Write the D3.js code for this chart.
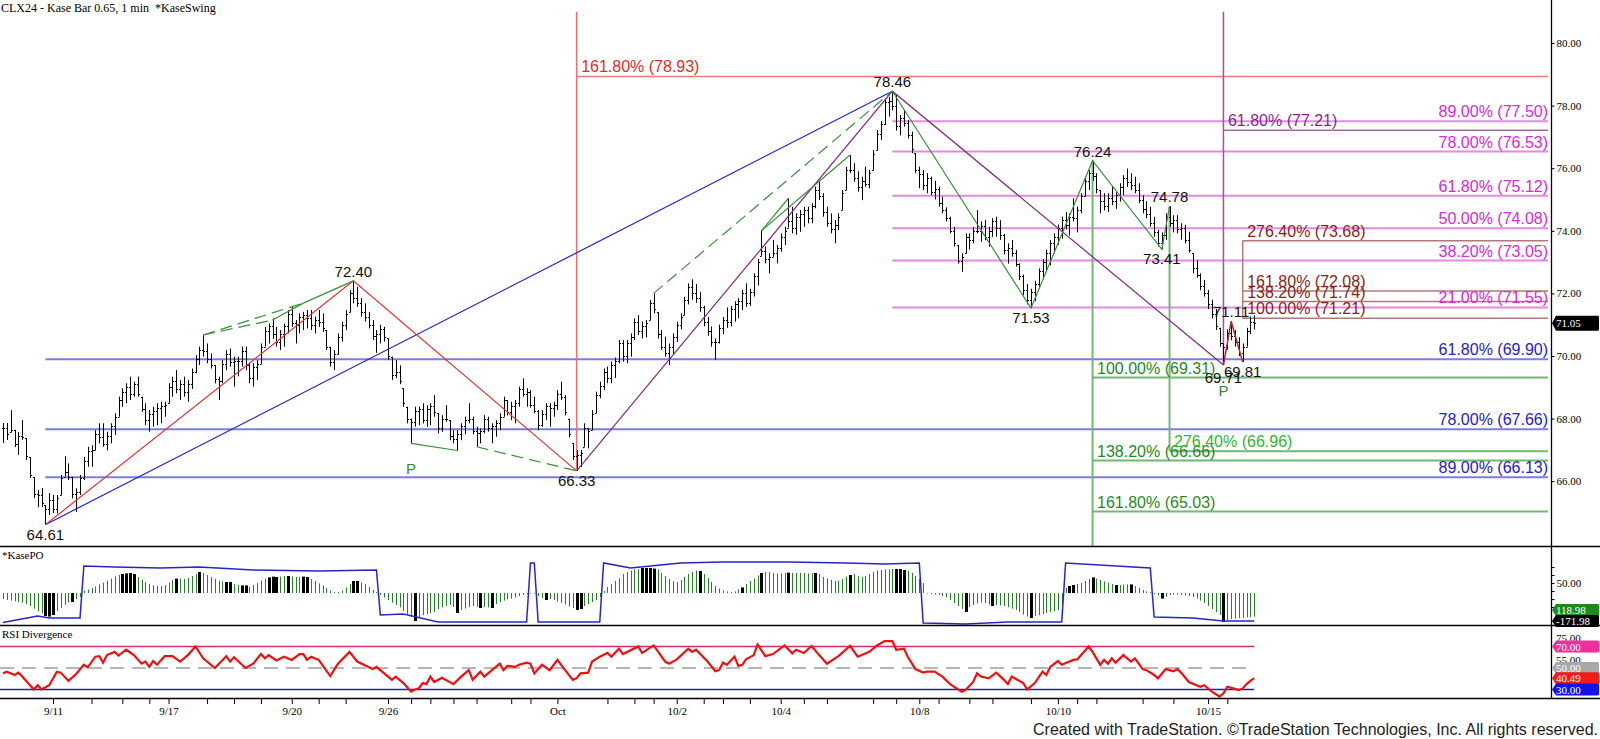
<!DOCTYPE html>
<html><head><meta charset="utf-8">
<script src="https://cdn.jsdelivr.net/npm/d3@7"></script>
<style>body{margin:0;background:#fff}svg{display:block}</style>
</head><body>
<svg id="c" width="1600" height="739"></svg>
<script>
// ---------------- DATA ----------------
const barHigh=[
67.86,67.86,68.27,67.64,67.57,67.95,67.38,66.77,66.13,65.72,
65.78,65.24,65.62,65.56,65.56,66.20,66.80,66.57,66.14,65.77,
66.20,66.78,67.10,67.15,67.63,67.85,67.85,67.58,67.85,68.17,
68.70,68.97,69.13,69.34,69.18,69.34,68.70,68.49,68.27,68.38,
68.49,68.54,68.54,69.13,69.34,69.55,69.23,69.34,69.23,69.60,
70.03,70.30,70.67,70.40,70.08,69.71,69.34,69.87,70.19,70.24,
69.98,69.98,70.30,70.30,69.77,69.77,69.87,70.40,70.93,71.04,
71.20,70.93,70.83,71.04,71.47,71.57,71.15,71.36,71.41,71.47,
71.47,71.26,71.47,71.36,70.83,70.30,70.19,70.72,71.10,71.47,
72.10,72.40,72.21,71.85,71.68,71.41,71.15,70.83,71.00,70.93,
70.56,69.98,69.87,69.70,68.97,68.38,68.00,68.38,68.38,68.49,
68.43,68.49,68.75,68.17,68.11,68.43,67.95,67.63,67.63,67.85,
68.06,68.49,68.06,67.74,67.69,68.11,68.06,67.85,67.95,68.17,
68.70,68.59,68.54,68.59,69.02,69.29,68.97,68.91,68.70,68.27,
68.27,68.49,68.49,68.54,68.91,69.18,68.75,68.00,67.21,66.99,
67.00,67.85,67.70,68.27,68.86,69.18,69.60,69.66,69.82,69.95,
70.51,70.51,70.51,70.72,71.20,71.31,71.10,71.15,71.79,72.00,
71.41,70.83,70.62,70.40,70.72,71.10,71.36,71.89,72.32,72.45,
72.30,72.05,71.60,71.25,70.94,70.56,71.00,71.25,71.55,71.60,
71.75,71.85,72.11,72.32,72.15,72.64,73.10,74.00,73.50,73.28,
73.71,73.55,73.92,74.13,75.04,74.77,74.56,74.66,74.77,74.77,
74.88,75.41,75.57,75.20,74.77,74.56,74.34,74.56,75.30,76.05,
76.42,76.16,75.90,75.73,76.05,75.94,76.58,77.22,77.50,78.23,
78.28,78.46,78.35,77.70,77.86,77.54,77.17,76.48,76.05,75.94,
75.84,75.73,75.60,75.41,75.09,74.75,74.45,74.13,73.55,73.28,
73.92,73.92,74.13,74.66,74.30,74.35,74.13,74.40,74.45,74.34,
73.90,73.60,73.71,73.39,72.96,72.60,72.30,72.15,72.40,72.80,
73.10,73.40,73.70,73.92,74.20,74.45,74.60,74.56,75.04,74.77,
75.20,75.73,75.94,76.24,75.84,75.30,75.20,75.20,75.41,75.25,
75.52,75.78,75.99,75.84,75.73,75.52,75.14,74.95,74.77,74.45,
74.03,73.95,74.56,74.78,74.50,74.50,74.24,74.19,73.97,73.28,
73.07,72.64,72.43,72.11,71.80,71.50,70.90,70.40,70.85,71.11,
70.83,70.60,70.40,70.90,71.26,71.30];
const barLow=[
67.22,67.32,67.57,67.09,66.84,67.32,66.68,66.10,65.46,65.17,
65.17,64.61,64.92,64.98,64.97,65.55,66.15,66.04,65.45,65.02,
65.56,66.04,66.46,66.46,66.99,67.21,67.10,66.99,67.21,67.48,
68.06,68.38,68.49,68.59,68.70,68.70,68.22,67.79,67.58,67.74,
67.79,67.85,68.06,68.49,68.70,68.81,68.59,68.70,68.54,68.95,
69.45,69.71,69.98,69.77,69.60,69.13,68.59,69.13,69.55,69.66,
69.02,69.35,69.66,69.55,69.13,69.02,69.23,69.75,70.30,70.40,
70.55,70.30,70.19,70.30,70.72,70.93,70.40,70.72,70.83,70.88,
70.83,70.72,70.93,70.77,70.19,69.66,69.55,70.05,70.46,70.83,
71.40,71.68,71.57,71.26,71.10,70.88,70.51,70.10,70.40,70.46,
69.87,69.23,69.29,69.10,68.38,67.85,67.21,67.74,67.79,67.85,
67.74,67.79,68.06,67.53,67.58,67.90,67.31,67.21,66.98,67.31,
67.50,67.85,67.50,67.10,67.21,67.53,67.58,67.21,67.42,67.63,
68.06,68.10,67.95,67.85,68.38,68.70,68.38,68.35,68.17,67.63,
67.74,67.95,67.74,68.06,68.27,68.59,68.10,67.40,66.68,66.33,
66.45,67.10,67.05,67.63,68.17,68.65,68.91,69.13,69.13,69.30,
69.77,69.82,69.77,69.98,70.51,70.67,70.56,70.60,71.15,71.36,
70.56,70.19,69.98,69.71,70.05,70.45,70.85,71.30,71.65,71.80,
71.70,71.41,70.95,70.65,70.30,69.87,70.40,70.70,70.90,70.95,
71.10,71.20,71.47,71.57,71.60,71.90,72.25,73.20,72.96,72.64,
73.17,72.96,73.33,73.55,74.10,73.92,73.87,73.97,74.13,74.24,
74.24,74.72,74.98,74.45,74.13,73.92,73.60,74.02,74.66,75.30,
75.84,75.57,75.25,74.98,75.41,75.36,75.94,76.58,76.90,77.38,
77.65,77.85,77.20,77.05,77.33,76.95,76.48,75.84,75.36,75.30,
75.20,75.14,75.00,74.77,74.56,74.30,73.92,73.50,72.95,72.69,
73.28,73.40,73.60,73.92,73.65,73.70,73.49,73.80,73.81,73.71,
73.25,72.95,73.17,72.85,72.43,71.95,71.65,71.53,71.75,72.15,
72.45,72.75,72.90,73.28,73.55,73.75,74.05,73.85,74.30,73.95,
74.56,75.09,75.30,75.60,75.20,74.56,74.65,74.60,74.82,74.70,
74.93,75.14,75.40,75.30,75.20,74.88,74.56,74.40,74.13,73.81,
73.50,73.41,73.71,74.13,73.95,73.92,73.71,73.60,73.30,72.64,
72.50,72.10,71.90,71.50,71.20,70.83,70.30,69.71,70.20,70.50,
70.30,70.00,69.81,70.30,70.70,70.85];
const barClose=[
67.70,67.50,67.65,67.20,67.45,67.40,66.80,66.20,65.60,65.55,
65.30,65.10,65.40,65.10,65.45,66.10,66.30,66.15,65.60,65.65,
66.10,66.65,66.95,67.00,67.50,67.40,67.20,67.45,67.75,68.05,
68.60,68.85,69.00,68.80,69.10,68.80,68.30,67.95,68.15,68.25,
68.35,68.40,68.45,69.00,69.20,68.95,69.10,68.85,69.10,69.50,
69.90,70.20,70.15,69.90,69.70,69.25,69.20,69.75,70.05,69.80,
69.85,69.85,70.15,69.70,69.30,69.65,69.75,70.30,70.80,70.95,
70.70,70.45,70.70,70.95,71.35,71.05,71.00,71.25,71.30,71.20,
71.00,71.15,71.10,70.90,70.30,69.80,70.05,70.60,71.00,71.35,
72.00,71.85,71.70,71.40,71.25,71.00,70.65,70.70,70.85,70.60,
70.00,69.40,69.50,69.20,68.50,68.00,67.90,68.25,68.30,67.95,
68.30,68.40,68.20,67.70,68.00,68.00,67.45,67.35,67.50,67.75,
67.95,68.00,67.60,67.55,67.60,68.00,67.70,67.75,67.85,68.05,
68.60,68.20,68.40,68.50,68.95,68.80,68.85,68.45,68.25,67.80,
68.15,68.40,68.35,68.45,68.80,68.70,68.20,67.50,66.80,66.85,
66.90,67.70,67.60,68.15,68.75,69.05,69.50,69.30,69.70,69.85,
70.40,70.00,70.40,70.60,71.10,70.80,70.95,71.05,71.70,71.50,
70.70,70.30,70.10,70.30,70.60,71.00,71.25,71.80,72.20,72.00,
71.85,71.55,71.10,70.80,70.45,70.45,70.90,71.15,71.10,71.50,
71.65,71.75,72.00,71.70,72.05,72.55,73.00,73.35,73.10,73.15,
73.30,73.45,73.80,74.00,74.30,74.10,74.45,74.55,74.65,74.40,
74.80,75.30,75.10,74.60,74.25,74.05,74.20,74.45,75.20,75.95,
75.95,75.70,75.40,75.60,75.50,75.85,76.45,77.10,77.40,78.10,
78.15,78.00,77.35,77.60,77.45,77.05,76.60,75.95,75.80,75.45,
75.70,75.25,75.35,74.90,74.65,74.40,74.00,73.60,73.05,73.15,
73.80,73.70,74.00,74.00,74.15,73.80,74.00,74.30,74.10,73.85,
73.40,73.45,73.30,72.95,72.55,72.10,71.80,72.05,72.30,72.70,
73.00,73.30,73.60,73.80,74.10,74.35,74.20,74.45,74.40,74.65,
75.10,75.60,75.85,75.75,75.35,74.95,74.80,75.05,74.95,75.15,
75.40,75.70,75.55,75.45,75.30,75.00,74.70,74.55,74.25,73.95,
73.60,73.85,74.45,74.25,74.35,74.05,74.10,73.70,73.40,72.80,
72.60,72.25,72.00,71.65,71.35,70.95,70.40,70.30,70.75,70.65,
70.45,70.10,70.30,70.80,71.10,71.05];

// KasePO histogram (per bar) and thick black bars
const kpoHist=[
-30,-35,-38,-42,-45,-48,-55,-65,-78,-92,
-102,-115,-118,-110,-90,-75,-60,-48,-45,-30,
-20,12,18,25,32,42,52,62,72,82,
90,95,98,100,95,80,68,55,45,38,
35,35,40,52,65,72,72,70,75,85,
95,105,100,90,80,70,62,58,55,55,
45,40,38,38,32,40,50,62,72,78,
82,80,82,85,85,82,80,80,82,80,
70,60,48,38,25,12,5,5,12,28,
45,60,60,52,45,30,15,5,-10,-22,
-35,-48,-60,-72,-90,-105,-120,-140,-120,-110,
-105,-100,-95,-80,-72,-65,-60,-70,-100,-85,
-78,-70,-65,-70,-75,-70,-72,-75,-55,-45,
-38,-32,-28,-22,-15,-10,-5,-3,-3,-15,
-25,-35,-30,-35,-42,-50,-58,-68,-75,-85,
-80,-65,-55,-45,-35,-20,10,30,45,60,
75,95,105,112,118,120,125,125,125,122,
118,100,85,70,60,55,65,80,95,105,
112,110,95,75,55,35,22,12,8,5,
8,18,28,45,60,72,88,100,105,105,
100,98,98,100,102,100,100,100,100,98,
100,100,95,80,72,65,60,62,70,82,
90,95,85,80,85,95,105,112,115,118,
118,120,120,120,115,110,100,85,70,50,
-3,-5,-8,-10,-15,-22,-35,-50,-65,-80,
-95,-70,-60,-52,-48,-50,-58,-65,-60,-62,
-65,-70,-78,-85,-95,-108,-118,-125,-115,-110,
-105,-100,-95,-90,-85,-75,25,35,40,45,
50,60,70,78,72,65,58,52,45,40,
40,42,43,43,35,25,15,8,4,-5,
-12,-28,-18,-10,-6,-8,-10,-12,-15,-20,
-28,-38,-50,-65,-80,-95,-110,-145,-135,-130,
-128,-125,-125,-122,-120,-118];
const kpoBlack=[11,12,13,18,31,32,33,34,45,51,58,59,62,63,69,70,71,74,78,79,91,92,107,118,124,127,141,149,150,166,167,168,169,181,192,197,204,211,220,232,233,234,250,257,267,277,278,283,289,293,301,317];
const kpoBandBar=[0,9,12,20,21,29,41,51,65,82,97,98,104,113,136,137,138,139,155,156,163,176,187,204,219,229,238,239,250,261,275,276,298,299,309,317,325];
const kpoBandVal=[-148,-115,-125,-125,135,130,125,130,115,110,115,-110,-105,-145,-145,150,150,-145,-145,150,125,150,155,155,150,145,150,-150,-155,-145,-145,150,125,-120,-125,-140,-140];

// RSI
const rsiBar=[0,1,3,4,5,8,9,10,12,14,15,17,19,21,22,24,25,26,27,29,30,32,34,36,37,38,39,40,42,44,46,48,50,52,55,58,59,60,63,65,67,68,69,71,73,75,77,78,79,80,82,85,87,90,92,96,97,99,101,102,104,106,107,108,109,110,111,112,114,117,119,121,122,124,125,127,129,130,131,133,134,136,137,138,140,142,144,146,148,149,150,152,153,155,157,158,160,161,165,166,169,172,173,175,178,179,180,183,185,186,187,188,190,191,192,193,195,196,198,200,203,205,206,208,210,212,214,217,220,222,225,227,229,231,232,234,235,237,239,240,242,244,246,249,250,252,253,254,256,258,260,261,262,265,266,268,270,271,272,274,275,278,279,282,283,285,286,287,288,289,291,293,294,296,297,299,300,302,304,305,306,308,311,312,314,316,317,318,320,321,322,323,324,325];
const rsiVal=[45,46.6,43.5,45.7,42,30,34,30,34,46.6,45.7,38,44.4,53,50.6,60.5,61,55,62,65,61.5,67,62,54,56,51,56.5,53,61,61,56,62,70,59,50,61,56,60,50,54,63,59,62,57,60.5,57.5,63,63,57.5,60.5,57.5,42.5,54,65,56,49,51,45,39,42,36,28,30,31,36,35,42,37,41,35,42,48,39,46.6,42,48,54,48,52,51,53,55,54,45,53,48,57.5,48,39,40.5,45,45.7,56,60.5,64,60.5,68,63,70,64,71,56,54,58,68,65,67,56,47,48,55,53,60.5,52,53,58,62,72,61,63,71,63.6,67,64,70.5,62,54,61,70.5,60.5,65,71,75,75,67,68,60.5,49,45.7,46.6,46.6,42,35,28,29.5,37,45,42,40.4,45.7,39,35,42,36,30,36,46.6,43.5,51,56.5,53,57.5,58,70,65,53,57.5,54,59,55,62,56,59,49,48,43.5,40.4,49,47,49,45.7,37,32.6,34,28,23.3,26.4,32.6,30.6,29.5,31,35,38,40.5];

// axis ticks
const priceTicks=[66,68,70,72,74,76,78,80];
const xTicks=[13,23,31,38,43,53,60,67,75,82,89,100,106,111,117,123,132,137,144,157,164,169,175,182,187,194,202,208,214,226,232,238,243,251,257,267,274,279,284,296,304,313,318];
const xLabelBars=[13,43,75,100,144,175,202,238,274,313];
const xLabelText=["9/11","9/17","9/20","9/26","Oct","10/2","10/4","10/8","10/10","10/15"];

// fib levels
const blueLevels=[69.90,67.66,66.13], blueText=["61.80% (69.90)","78.00% (67.66)","89.00% (66.13)"];
const magLevels=[77.50,76.53,75.12,74.08,73.05,71.55], magText=["89.00% (77.50)","78.00% (76.53)","61.80% (75.12)","50.00% (74.08)","38.20% (73.05)","21.00% (71.55)"];
const greenLevels=[69.31,66.66,65.03], greenText=["100.00% (69.31)","138.20% (66.66)","161.80% (65.03)"];
const green2Levels=[66.96], green2Text=["276.40% (66.96)"];
const brownLevels=[73.68,72.08,71.74,71.21], brownText=["276.40% (73.68)","161.80% (72.08)","138.20% (71.74)","100.00% (71.21)"];
const redLevels=[78.93], redText=["161.80% (78.93)"];
const purpleLevels=[77.21], purpleText=["61.80% (77.21)"];

// swings
const swingBar=[11,91,149,231,267,283,301,303,317,319,322];
const swingPrice=[64.61,72.40,66.33,78.46,71.53,76.24,73.41,74.78,69.71,71.11,69.81];
const swingPos=["b","a","b","a","b","a","b","a","b2","a","b"];
const redZigBar=[11,91,149], redZigPrice=[64.61,72.40,66.33];
const blueLineBar=[11,231], blueLinePrice=[64.61,78.46];
const purpleZigBar=[149,231,317], purpleZigPrice=[66.33,78.46,69.71];
const greenZigBar=[231,267,283,301,303], greenZigPrice=[78.46,71.53,76.24,73.41,74.78];
const darkRedZigBar=[317,319,322], darkRedZigPrice=[69.71,71.11,69.81];
const greenSolidBar=[[78,91],[70,78],[106,118],[197,204],[197,220]];
const greenSolidPrice=[[71.69,72.40],[71.15,71.69],[67.21,66.98],[74.00,75.04],[74.00,76.42]];
const greenDashBar=[[52,78],[52,70],[123,149],[169,231]];
const greenDashPrice=[[70.67,71.69],[70.67,71.15],[67.10,66.33],[72.00,78.46]];
const pBar=[106,317], pPrice=[67.21,69.71];

// ---------------- DRAW ----------------
const svg=d3.select('#c');
const SANS='"Liberation Sans", Arial, sans-serif', SERIF='"Liberation Serif", "Times New Roman", serif';
const x=d3.scaleLinear().domain([0,325]).range([3,1254.25]);
const y=d3.scaleLinear().domain([64,80]).range([543.8,43]);
const yK=d3.scaleLinear().domain([-150,150]).range([623,563]);
const yR=d3.scaleLinear().domain([30,70]).range([689.5,646.5]);
const LEND=1548, AXX=1551.5, TOP=81.0, BOT=y.invert(546);

const g=svg.append('g');
function hline(levels,startBar,lineCol,sw){
  levels.forEach(v=>{
    g.append('line').attr('x1',x(startBar)).attr('x2',LEND).attr('y1',y(v)).attr('y2',y(v))
      .attr('stroke',lineCol).attr('stroke-width',sw||2);
  });
}
function hlabels(levels,texts,startBar,txtCol,anchor){
  levels.forEach((v,i)=>{
    g.append('text').attr('x',anchor==='end'?LEND:x(startBar)+4.5).attr('y',y(v)-4)
      .attr('text-anchor',anchor).attr('font-family',SANS).attr('font-size',16)
      .attr('fill',txtCol).text(texts[i]);
  });
}
// horizontal fib lines
hline(blueLevels,11,'#7b7bea');
hline(magLevels,231,'#e688e6');
hline(greenLevels,283,'#72b872');
hline(green2Levels,303,'#72b872');
hline(redLevels,149,'#f07a7a',1.5);
hline(purpleLevels,317,'#a36aa8',1.5);
hline(brownLevels,322,'#b07878',1.5);

// verticals
function vline(bar,p1,p2,col,w){
  g.append('line').attr('x1',x(bar)).attr('x2',x(bar)).attr('y1',y(p1)).attr('y2',y(p2))
    .attr('stroke',col).attr('stroke-width',w||1.5);
}
vline(149,66.33,TOP,'#f07070');
vline(317,69.71,TOP,'#a050a8');
vline(283,76.24,BOT,'#72b872',2);
vline(303,74.78,66.96,'#72b872',2);
vline(322,71.21,73.68,'#b07878');

// price bars
const bars=g.append('g').attr('stroke','#000').attr('stroke-width',1);
barHigh.forEach((h,i)=>{
  const l=barLow[i], c=barClose[i];
  let o=i>0?barClose[i-1]:c; o=Math.max(l,Math.min(h,o));
  const xi=Math.round(x(i))+0.5;
  bars.append('line').attr('x1',xi).attr('x2',xi).attr('y1',y(h)).attr('y2',y(l));
  bars.append('line').attr('x1',xi-1.5).attr('x2',xi).attr('y1',Math.round(y(o))+0.5).attr('y2',Math.round(y(o))+0.5);
  bars.append('line').attr('x1',xi).attr('x2',xi+1.5).attr('y1',Math.round(y(c))+0.5).attr('y2',Math.round(y(c))+0.5);
});

// zigzags
const ln=d3.line().x(d=>x(d[0])).y(d=>y(d[1]));
function poly(bs,ps,col,w,dash){
  g.append('path').attr('d',ln(bs.map((b,i)=>[b,ps[i]]))).attr('fill','none')
    .attr('stroke',col).attr('stroke-width',w||1.2).attr('stroke-dasharray',dash||null);
}
poly(blueLineBar,blueLinePrice,'#2424d8');
poly(redZigBar,redZigPrice,'#e83232');
poly(purpleZigBar,purpleZigPrice,'#7e2a80');
poly(greenZigBar,greenZigPrice,'#3a8f3a');
poly(darkRedZigBar,darkRedZigPrice,'#b02a2a',1.5);
greenSolidBar.forEach((b,i)=>poly(b,greenSolidPrice[i],'#3a8f3a'));
greenDashBar.forEach((b,i)=>poly(b,greenDashPrice[i],'#3a8f3a',1.2,'12,6'));

// fib labels
hlabels(blueLevels,blueText,11,'#2323c4','end');
hlabels(magLevels,magText,231,'#d82ad8','end');
hlabels(greenLevels,greenText,283,'#1f8a1f','start');
hlabels(green2Levels,green2Text,303,'#2fb82f','start');
hlabels(redLevels,redText,149,'#e42a2a','start');
hlabels(purpleLevels,purpleText,317,'#8a1f8e','start');
hlabels(brownLevels,brownText,322,'#8b1c1c','start');

// swing labels
swingBar.forEach((b,i)=>{
  const p=swingPrice[i], pos=swingPos[i];
  const yy= pos==='a'? y(p)-4 : pos==='b'? y(p)+15 : y(p)+18;
  g.append('text').attr('x',x(b)).attr('y',yy).attr('text-anchor','middle')
   .attr('font-family',SANS).attr('font-size',15).attr('fill','#111').text(p.toFixed(2));
});
pBar.forEach((b,i)=>{
  g.append('text').attr('x',x(b)).attr('y',y(pPrice[i])+31).attr('text-anchor','middle')
   .attr('font-family',SANS).attr('font-size',15).attr('fill','#2e8b2e').text('P');
});

// ---- KasePO panel ----
const kg=svg.append('g');
kpoHist.forEach((v,i)=>{
  const blk=kpoBlack.includes(i);
  kg.append('line').attr('x1',Math.round(x(i))+0.5).attr('x2',Math.round(x(i))+0.5)
    .attr('y1',yK(0)).attr('y2',yK(v)).attr('stroke',blk?'#000':'#2a7d2a').attr('stroke-width',blk?3:1);
});
kg.append('path').attr('d',d3.line().x(d=>x(d[0])).y(d=>yK(d[1]))(kpoBandBar.map((b,i)=>[b,kpoBandVal[i]])))
  .attr('fill','none').attr('stroke','#2626c8').attr('stroke-width',1.5);

// ---- RSI panel ----
const rg=svg.append('g');
rg.append('line').attr('x1',0).attr('x2',x(325)).attr('y1',yR(70)).attr('y2',yR(70)).attr('stroke','#d42a78').attr('stroke-width',1.5);
rg.append('line').attr('x1',0).attr('x2',x(325)).attr('y1',yR(50)).attr('y2',yR(50)).attr('stroke','#a0a0a0').attr('stroke-width',1.5).attr('stroke-dasharray','14,8');
rg.append('line').attr('x1',0).attr('x2',x(325)).attr('y1',yR(30)).attr('y2',yR(30)).attr('stroke','#2020a8').attr('stroke-width',1.5);
rg.append('path').attr('d',d3.line().x(d=>x(d[0])).y(d=>yR(d[1]))(rsiBar.map((b,i)=>[b,rsiVal[i]])))
  .attr('fill','none').attr('stroke','#ee1111').attr('stroke-width',2.2);

// ---- frames / separators ----
[546,625,698].forEach(yy=>svg.append('line').attr('x1',0).attr('x2',1600).attr('y1',yy+0.5).attr('y2',yy+0.5).attr('stroke','#000').attr('stroke-width',1.3));
svg.append('line').attr('x1',AXX).attr('x2',AXX).attr('y1',0).attr('y2',698).attr('stroke','#000').attr('stroke-width',1.3);

// price axis
const pa=svg.append('g').attr('transform',`translate(${AXX},0)`)
  .call(d3.axisRight(y).tickValues(priceTicks).tickSize(3).tickPadding(2).tickFormat(d3.format('.2f')));
pa.select('.domain').remove();
pa.selectAll('text').attr('font-family',SERIF).attr('font-size',11).attr('fill','#000');

// KasePO axis
const ka=svg.append('g').attr('transform',`translate(${AXX},0)`)
  .call(d3.axisRight(yK).tickValues([130,90,50,10,-30,-70]).tickSize(3).tickPadding(2).tickFormat(d=>d===50?'50.00':''));
ka.select('.domain').remove();
ka.selectAll('text').attr('font-family',SERIF).attr('font-size',11).attr('fill','#000');

// RSI axis labels partly hidden behind the value tags (as in the original)
[75,55].forEach(v=>svg.append('text').attr('x',1556).attr('y',yR(v)+1).attr('font-family',SERIF).attr('font-size',11).text(v.toFixed(2)));

function tag(cy,txt,col,h){
  h=h||12; const x0=1552,x1=1598,y0=cy-h/2,y1=cy+h/2;
  svg.append('path').attr('d',`M${x0},${cy} L${x0+4},${y0} L${x1},${y0} Q${x1+1},${y0} ${x1+1},${y0+2} L${x1+1},${y1-2} Q${x1+1},${y1} ${x1},${y1} L${x0+4},${y1} Z`).attr('fill',col);
  svg.append('text').attr('x',1556).attr('y',cy+4).attr('font-family',SERIF).attr('font-size',11).attr('fill','#fff').text(txt);
}
tag(y(barClose[325]),barClose[325].toFixed(2),'#000',15);
tag(610,'118.98','#1e8a1e');
tag(621,'-171.98','#000');
tag(yR(70),'70.00','#f0309a');
tag(yR(50),'50.00','#a8a8a8');
tag(yR(40.49),'40.49','#f01c1c');
tag(yR(30),'30.00','#1414e8');

// x axis
const labelMap={}; xLabelBars.forEach((b,i)=>labelMap[b]=xLabelText[i]);
const xa=svg.append('g').attr('transform','translate(0,698)')
  .call(d3.axisBottom(x).tickValues(xTicks).tickSize(6).tickPadding(3).tickFormat(d=>labelMap[d]||''));
xa.select('.domain').remove();
xa.selectAll('text').attr('font-family',SERIF).attr('font-size',11).attr('fill','#000');

// titles
svg.append('text').attr('x',1).attr('y',12).attr('font-family',SERIF).attr('font-size',12).style('white-space','pre').text('CLX24 - Kase Bar 0.65, 1 min  *KaseSwing');
svg.append('text').attr('x',2).attr('y',559).attr('font-family',SERIF).attr('font-size',11).text('*KasePO');
svg.append('text').attr('x',2).attr('y',638).attr('font-family',SERIF).attr('font-size',11).text('RSI Divergence');
svg.append('text').attr('x',1598).attr('y',735).attr('text-anchor','end').attr('font-family',SANS).attr('font-size',16).attr('fill','#222').text('Created with TradeStation. ©TradeStation Technologies, Inc. All rights reserved.');
</script>
</body></html>
